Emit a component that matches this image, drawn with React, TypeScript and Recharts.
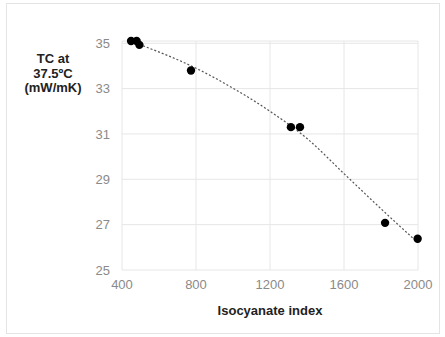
import React from 'react';
import { ComposedChart, Scatter, Line, CartesianGrid, XAxis, YAxis, ZAxis, Label } from 'recharts';

// measured samples: isocyanate index vs thermal conductivity
const indexValues = [449, 479, 494, 773, 1313, 1362, 1822, 1998];
const tcValues = [35.1, 35.1, 34.93, 33.8, 31.3, 31.3, 27.08, 26.38];

// dotted trend line
const trendIndex = [494, 800, 1000, 1200, 1400, 1600, 1800, 2000];
const trendTc = [34.95, 33.9, 33.02, 32.0, 30.8, 29.25, 27.7, 26.2];

const xTicks = [400, 800, 1200, 1600, 2000];
const yTicks = [25, 27, 29, 31, 33, 35];

const points = indexValues.map((x, i) => ({ x, y: tcValues[i] }));
const trend = trendIndex.map((x, i) => ({ x, y: trendTc[i] }));

const font = '"Liberation Sans", Arial, sans-serif';
const tickStyle = { fill: '#8a8a8a', fontSize: 13, fontFamily: font };

export default function App() {
  return (
    <div style={{ position: 'absolute', left: 0, top: 0, width: 445, height: 337, background: '#fff' }}>
      <div
        style={{
          position: 'absolute',
          left: 6,
          top: 3,
          width: 434,
          height: 331,
          border: '1px solid #e4e4e4',
          boxSizing: 'border-box',
        }}
      />
      <div
        style={{
          position: 'absolute',
          left: 13,
          top: 52,
          width: 80,
          textAlign: 'center',
          fontFamily: font,
          fontWeight: 'bold',
          fontSize: 13,
          lineHeight: '14.5px',
          color: '#222',
        }}
      >
        TC at
        <br />
        37.5ºC
        <br />
        (mW/mK)
      </div>
      <ComposedChart
        width={445}
        height={337}
        margin={{ top: 41, right: 27, bottom: 37, left: 0 }}
        style={{ position: 'absolute', left: 0, top: 0 }}
      >
        <CartesianGrid stroke="#e6e6e6" />
        <XAxis
          type="number"
          dataKey="x"
          domain={[400, 2000]}
          ticks={xTicks}
          axisLine={false}
          tickLine={false}
          tickSize={0}
          tickMargin={10}
          height={30}
          tick={tickStyle}
        >
          <Label
            value="Isocyanate index"
            position="bottom"
            offset={6}
            style={{ fill: '#222', fontSize: 13, fontWeight: 'bold', fontFamily: font }}
          />
        </XAxis>
        <YAxis
          type="number"
          dataKey="y"
          domain={[25, 35]}
          ticks={yTicks}
          axisLine={false}
          tickLine={false}
          tickSize={0}
          tickMargin={12}
          width={122}
          tick={tickStyle}
        />
        <ZAxis range={[55, 55]} />
        <Line
          data={trend}
          dataKey="y"
          type="monotone"
          stroke="#555"
          strokeWidth={1.2}
          strokeDasharray="2 2"
          dot={false}
          activeDot={false}
          isAnimationActive={false}
        />
        <Scatter data={points} dataKey="y" fill="#000" isAnimationActive={false} />
      </ComposedChart>
    </div>
  );
}
